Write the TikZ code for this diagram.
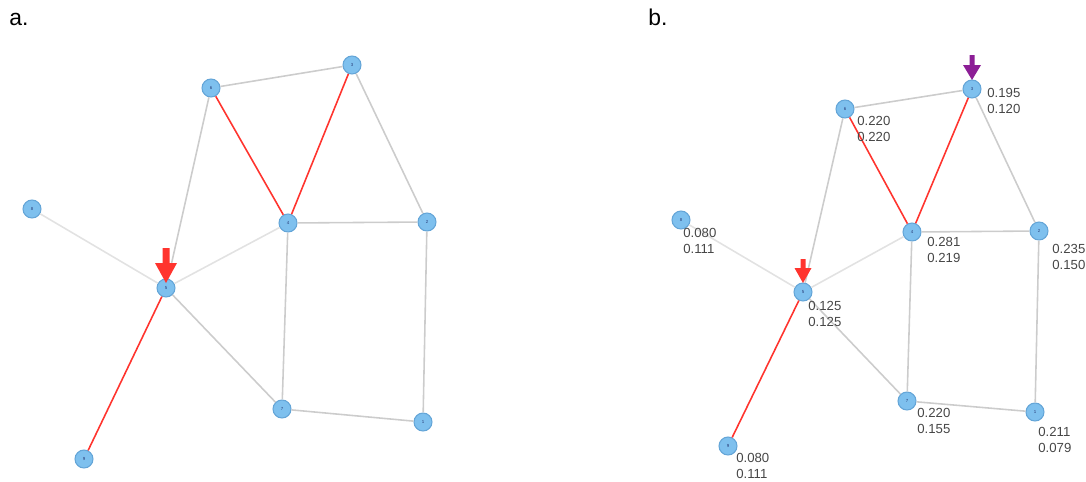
\documentclass[tikz,border=0pt]{standalone}
\usepackage{fontspec}
\setmainfont{Liberation Sans}
\usepackage{tikz}
\definecolor{vertexfill}{RGB}{126,192,238}
\definecolor{vertexline}{RGB}{100,165,215}
\definecolor{vertextext}{RGB}{40,60,120}
\definecolor{edgegray}{RGB}{204,204,204}
\definecolor{edgelight}{RGB}{226,226,226}
\definecolor{edgered}{RGB}{255,52,46}
\definecolor{markpurple}{RGB}{140,30,150}
\definecolor{labelgray}{RGB}{70,70,70}

\begin{document}
\begin{tikzpicture}[x=0.02cm,y=-0.02cm,
  vtx/.style={circle,draw=vertexline,fill=vertexfill,line width=0.6pt,minimum size=0.36cm,inner sep=0pt,text=vertextext,font=\fontsize{2.5}{3}\selectfont},
  plain/.style={edgegray,line width=0.9pt},
  faint/.style={edgelight,line width=0.9pt},
  hot/.style={edgered,line width=0.9pt},
  score/.style={anchor=north west,inner sep=0pt,align=left,text=labelgray,font=\fontsize{7.5}{9}\selectfont},
  panel/.style={anchor=base west,inner sep=0pt,font=\fontsize{13}{15}\selectfont}]
\useasboundingbox (0,0) rectangle (1086,481);
\node[panel] (ta) at (9,25) {a.};
\node[panel] (tb) at (648,25) {b.};

% panel a
\node[vtx] (a8) at (32,209) {8};
\node[vtx] (a6) at (211,88) {6};
\node[vtx] (a3) at (352,65) {3};
\node[vtx] (a4) at (288,223) {4};
\node[vtx] (a2) at (427,222) {2};
\node[vtx] (a5) at (166,288) {5};
\node[vtx] (a7) at (282,409) {7};
\node[vtx] (a1) at (423,422) {1};
\node[vtx] (a9) at (84,459) {9};
\draw[plain] (a6) -- (a3);
\draw[plain] (a6) -- (a5);
\draw[hot] (a6) -- (a4);
\draw[hot] (a3) -- (a4);
\draw[plain] (a3) -- (a2);
\draw[plain] (a4) -- (a2);
\draw[faint] (a4) -- (a5);
\draw[plain] (a4) -- (a7);
\draw[plain] (a2) -- (a1);
\draw[plain] (a7) -- (a1);
\draw[plain] (a5) -- (a7);
\draw[faint] (a8) -- (a5);
\draw[hot] (a5) -- (a9);
\fill[edgered,shift={(a5)}] (-3.5,-40) -- (3.5,-40) -- (3.5,-25) -- (11,-25) -- (0,-5) -- (-11,-25) -- (-3.5,-25) -- cycle;

% panel b
\node[vtx] (b8) at (681,220) {8};
\node[vtx] (b6) at (845,109) {6};
\node[vtx] (b3) at (972,89) {3};
\node[vtx] (b4) at (912,232) {4};
\node[vtx] (b2) at (1039,231) {2};
\node[vtx] (b5) at (803,292) {5};
\node[vtx] (b7) at (907,401) {7};
\node[vtx] (b1) at (1035,412) {1};
\node[vtx] (b9) at (728,446) {9};
\draw[plain] (b6) -- (b3);
\draw[plain] (b6) -- (b5);
\draw[hot] (b6) -- (b4);
\draw[hot] (b3) -- (b4);
\draw[plain] (b3) -- (b2);
\draw[plain] (b4) -- (b2);
\draw[faint] (b4) -- (b5);
\draw[plain] (b4) -- (b7);
\draw[plain] (b2) -- (b1);
\draw[plain] (b7) -- (b1);
\draw[plain] (b5) -- (b7);
\draw[faint] (b8) -- (b5);
\draw[hot] (b5) -- (b9);
\fill[edgered,shift={(b5)}] (-2.5,-33) -- (2.5,-33) -- (2.5,-24) -- (8.5,-24) -- (0,-9) -- (-8.5,-24) -- (-2.5,-24) -- cycle;
\fill[markpurple,shift={(b3)}] (-2.5,-34) -- (2.5,-34) -- (2.5,-24) -- (9,-24) -- (0,-9) -- (-9,-24) -- (-2.5,-24) -- cycle;
\node[score] (s8) at (683,228) {0.080\\0.111};
\node[score] (s6) at (857,116) {0.220\\0.220};
\node[score] (s3) at (987,88) {0.195\\0.120};
\node[score] (s4) at (927,237) {0.281\\0.219};
\node[score] (s2) at (1052,244) {0.235\\0.150};
\node[score] (s5) at (808,301) {0.125\\0.125};
\node[score] (s7) at (917,408) {0.220\\0.155};
\node[score] (s1) at (1038,427) {0.211\\0.079};
\node[score] (s9) at (736,453) {0.080\\0.111};
\end{tikzpicture}
\end{document}
